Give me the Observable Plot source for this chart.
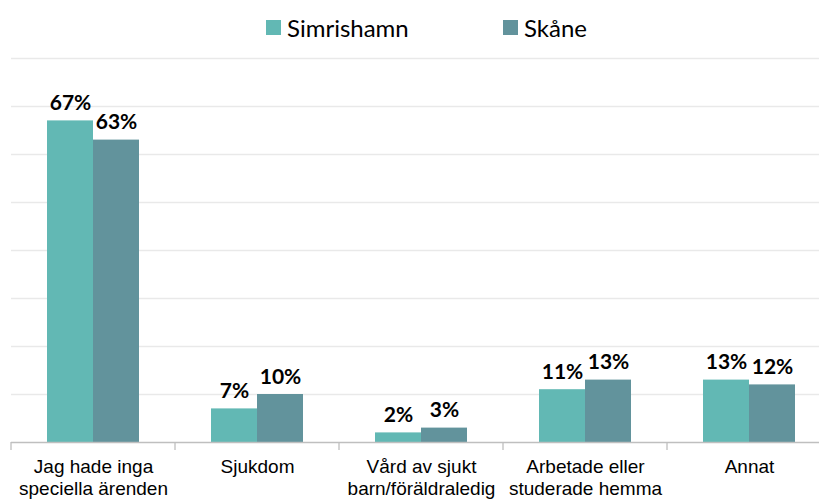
<!DOCTYPE html>
<html><head><meta charset="utf-8">
<script src="https://cdn.jsdelivr.net/npm/d3@7"></script>
<script src="https://cdn.jsdelivr.net/npm/@observablehq/plot@0.6"></script>
<style>
html,body{margin:0;padding:0;background:#fff;overflow:hidden;width:819px;height:501px;}
#legend{height:50px;position:relative;font-family:Lato,sans-serif;font-size:24px;color:#000;}
.li{position:absolute;top:13px;display:flex;align-items:center;}
.sw{width:15px;height:15px;margin-right:6px;}
#chart svg{max-width:none !important;display:block;}
</style></head>
<body>
<div id="legend"></div>
<div id="chart"></div>
<script>
const categories = ["Jag hade inga\nspeciella ärenden", "Sjukdom", "Vård av sjukt\nbarn/föräldraledig", "Arbetade eller\nstuderade hemma", "Annat"];
const series = ["Simrishamn", "Skåne"];
const simrishamn = [67, 7, 2, 11, 13];
const skane = [63, 10, 3, 13, 12];
const yTicks = [10, 20, 30, 40, 50, 60, 70, 80];
const colors = ["#62b8b4", "#62939c"];
const legendX = [266, 503];

const data = [];
categories.forEach((c, i) => {
  data.push({cat: c, series: series[0], value: simrishamn[i]});
  data.push({cat: c, series: series[1], value: skane[i]});
});

const legend = document.getElementById("legend");
series.forEach((s, i) => {
  const d = document.createElement("div");
  d.className = "li";
  d.style.left = legendX[i] + "px";
  d.innerHTML = `<div class="sw" style="background:${colors[i]}"></div><span>${s}</span>`;
  legend.appendChild(d);
});

const chart = Plot.plot({
  width: 831,
  height: 451,
  marginLeft: 11,
  marginRight: 0,
  marginTop: 8,
  marginBottom: 59,
  style: {fontFamily: "'Liberation Sans', Arial, sans-serif", background: "#fff", maxWidth: "none"},
  fx: {domain: categories, padding: 0, label: null},
  x: {domain: series, paddingInner: 0, paddingOuter: 0.763, axis: null},
  y: {domain: [0, 80], axis: null},
  color: {domain: series, range: colors},
  marks: [
    Plot.ruleY(yTicks, {stroke: "#e9e9e9", strokeWidth: 1.3}),
    Plot.barY(data, {fx: "cat", x: "series", y: "value", fill: "series", inset: 0}),
    Plot.ruleY([0], {stroke: "#bfbfbf", strokeWidth: 1.3}),
    Plot.text(data, {fx: "cat", x: "series", y: "value", text: d => d.value + "%", dy: -11,
      lineAnchor: "bottom", fontSize: 21, fontWeight: "bold", fontFamily: "Lato, sans-serif", fill: "#000"}),
    Plot.axisFx({anchor: "bottom", tickSize: 0, tickPadding: 15, fontSize: 19, label: null,
      lineHeight: 1.16, color: "#000"})
  ]
});
document.getElementById("chart").appendChild(chart);

// boundary tick marks along the baseline, placed with the fx and y scales
const fx = chart.scale("fx");
const y = chart.scale("y");
const base = y.apply(0);
const svg = d3.select(chart.tagName.toLowerCase() === "svg" ? chart : chart.querySelector("svg"));
const bounds = categories.map(c => fx.apply(c)).concat([fx.apply(categories[categories.length - 1]) + fx.bandwidth]);
svg.append("g").selectAll("line").data(bounds).join("line")
  .attr("x1", d => d).attr("x2", d => d)
  .attr("y1", base).attr("y2", base + 8)
  .attr("stroke", "#bfbfbf").attr("stroke-width", 1.3);
</script>
</body></html>
